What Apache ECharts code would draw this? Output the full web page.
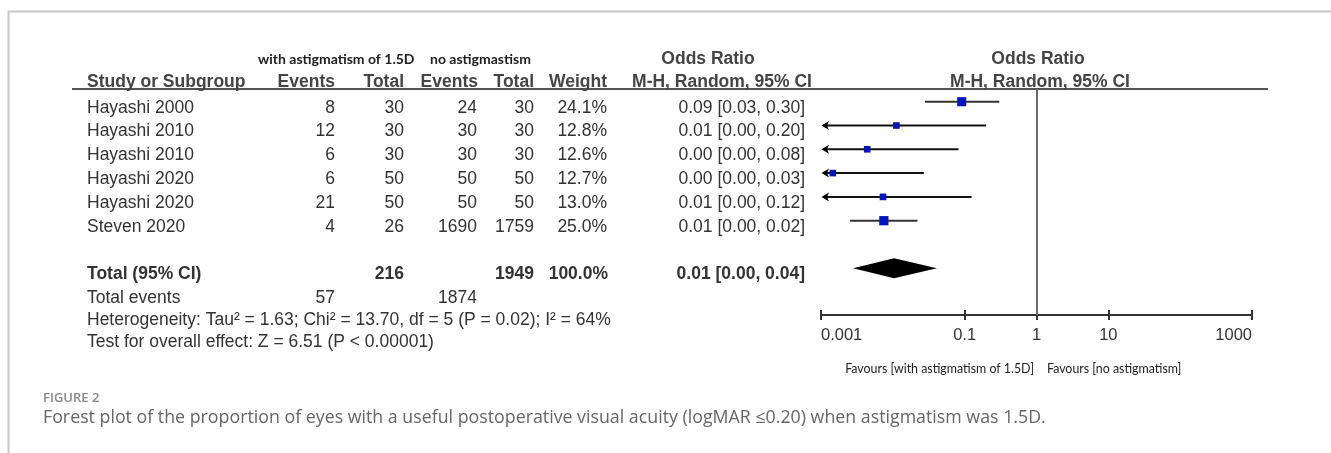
<!DOCTYPE html>
<html><head><meta charset="utf-8">
<script src="https://cdn.jsdelivr.net/npm/echarts@6/dist/echarts.min.js"></script>
<style>html,body{margin:0;padding:0;background:#fff;overflow:hidden}#c{width:1331px;height:453px}</style>
</head><body><div id="c"></div>
<script>
// ---------------- data ----------------
const studies   = ['Hayashi 2000','Hayashi 2010','Hayashi 2010','Hayashi 2020','Hayashi 2020','Steven 2020'];
const astEvents = [8, 12, 6, 6, 21, 4];
const astTotal  = [30, 30, 30, 50, 50, 26];
const noEvents  = [24, 30, 30, 50, 50, 1690];
const noTotal   = [30, 30, 30, 50, 50, 1759];
const weights   = [24.1, 12.8, 12.6, 12.7, 13.0, 25.0];
const orTexts   = ['0.09 [0.03, 0.30]','0.01 [0.00, 0.20]','0.00 [0.00, 0.08]','0.00 [0.00, 0.03]','0.01 [0.00, 0.12]','0.01 [0.00, 0.02]'];
// plotted estimates (odds ratio scale)
const orPoint   = [0.091, 0.0112, 0.0044, 0.00146, 0.0073, 0.0075];
const ciLow     = [0.028, 0.00063, 0.00024, 0.00008, 0.00043, 0.00254];
const ciHigh    = [0.304, 0.199, 0.082, 0.027, 0.125, 0.022];
const pooled    = [0.0104, 0.0028, 0.041];           // point, low, high
const totalTexts = ['Total (95% CI)', '216', '1949', '100.0%', '0.01 [0.00, 0.04]'];
const totalEventsTexts = ['Total events', '57', '1874'];
const footerLines = ['Heterogeneity: Tau\u00b2 = 1.63; Chi\u00b2 = 13.70, df = 5 (P = 0.02); I\u00b2 = 64%',
                     'Test for overall effect: Z = 6.51 (P < 0.00001)'];
const groupHeaders = ['with astigmatism of 1.5D', 'no astigmastism'];
const colHeaders = ['Study or Subgroup','Events','Total','Events','Total','Weight','M-H, Random, 95% CI'];
const plotHeaders = ['Odds Ratio','M-H, Random, 95% CI'];
const tickValues = [0.001, 0.1, 1, 10, 1000];
const tickLabels = ['0.001', '0.1', '1', '10', '1000'];
const favourLabels = ['Favours [with astigmatism of 1.5D]', 'Favours [no astigmatism]'];
const captionTitle = 'FIGURE 2';
const captionText = 'Forest plot of the proportion of eyes with a useful postoperative visual acuity (logMAR \u22640.20) when astigmatism was 1.5D.';

// ---------------- layout ----------------
const W = 1331, H = 453;
const GRID_TOP = 89, AXIS_Y = 315;
const ROW0 = 101.7, ROWH = 23.8;
const yMin = -(ROW0 - GRID_TOP) / ROWH;
const yMax = yMin + (AXIS_Y - GRID_TOP) / ROWH;
const TXT_DY = 6;
const FONT = '"Liberation Sans", Arial, sans-serif';
const F_REG = '17.5px ' + FONT, F_BOLD = 'bold 17.5px ' + FONT;
const TXT = '#333', HDR = '#444';
const COL = { name: 87, ev1: 335, tot1: 404, ev2: 477, tot2: 534, wt: 607, or: 805 };
const TOTAL_ROW = 7, EVENTS_ROW = 8, FOOT_ROWS = [8.92, 9.85];
const log = Math.log10;

function txt(x, y, text, align, font, fill) {
  return { type: 'text', x: x, y: y, style: { text: text, align: align, verticalAlign: 'middle', font: font, fill: fill || TXT } };
}

const chart = echarts.init(document.getElementById('c'), null, { renderer: 'canvas' });

const yAxisCommon = { type: 'value', inverse: true, min: yMin, max: yMax, show: false };

const option = {
  animation: false,
  backgroundColor: '#fff',
  grid: [
    { left: 0, right: 0, top: GRID_TOP, bottom: H - AXIS_Y },
    { left: 821, right: W - 1252, top: GRID_TOP, bottom: H - AXIS_Y }
  ],
  xAxis: [
    { gridIndex: 0, type: 'value', min: 0, max: W, show: false },
    { gridIndex: 1, type: 'value', min: log(tickValues[0]), max: log(tickValues[tickValues.length - 1]),
      position: 'bottom',
      splitLine: { show: false },
      axisLine: { show: true, onZero: false, lineStyle: { color: '#333', width: 2 } },
      axisTick: { show: true, length: 5, inside: false, customValues: tickValues.map(log), lineStyle: { color: '#333', width: 2 } },
      axisLabel: { show: true, margin: 12, fontSize: 16.5, fontFamily: FONT, color: '#333',
        customValues: tickValues.map(log), alignMinLabel: 'left', alignMaxLabel: 'right',
        formatter: function (v) { const i = tickValues.findIndex(t => Math.abs(log(t) - v) < 1e-6); return i >= 0 ? tickLabels[i] : ''; } }
    },
    { gridIndex: 1, type: 'value', min: log(tickValues[0]), max: log(tickValues[tickValues.length - 1]),
      position: 'bottom',
      splitLine: { show: false },
      axisLine: { show: false, onZero: false },
      axisTick: { show: true, length: 5, inside: true, customValues: tickValues.map(log), lineStyle: { color: '#333', width: 2 } },
      axisLabel: { show: false }
    }
  ],
  yAxis: [
    Object.assign({ gridIndex: 0 }, yAxisCommon),
    Object.assign({ gridIndex: 1 }, yAxisCommon)
  ],
  graphic: [
    // frame
    { type: 'rect', shape: { x: 8.5, y: 11.5, width: 1400, height: 600 }, style: { fill: 'none', stroke: '#c8c8c8', lineWidth: 2 }, silent: true },
    // header line
    { type: 'line', shape: { x1: 72, y1: GRID_TOP, x2: 1268, y2: GRID_TOP }, style: { stroke: '#555', lineWidth: 2 }, silent: true },
    // group headers
    { type: 'text', x: 258, y: 59, style: { text: groupHeaders[0], font: 'bold 14px Lato, sans-serif', fill: '#222', verticalAlign: 'middle' } },
    { type: 'text', x: 430, y: 59, style: { text: groupHeaders[1], font: 'bold 14px Lato, sans-serif', fill: '#222', verticalAlign: 'middle' } },
    { type: 'text', x: 708, y: 59, style: { text: plotHeaders[0], font: F_BOLD, fill: HDR, align: 'center', verticalAlign: 'middle' } },
    { type: 'text', x: 1038, y: 59, style: { text: plotHeaders[0], font: F_BOLD, fill: HDR, align: 'center', verticalAlign: 'middle' } },
    // column headers
    { type: 'text', x: COL.name, y: 82, style: { text: colHeaders[0], font: F_BOLD, fill: HDR, verticalAlign: 'middle' } },
    { type: 'text', x: COL.ev1, y: 82, style: { text: colHeaders[1], font: F_BOLD, fill: HDR, align: 'right', verticalAlign: 'middle' } },
    { type: 'text', x: COL.tot1, y: 82, style: { text: colHeaders[2], font: F_BOLD, fill: HDR, align: 'right', verticalAlign: 'middle' } },
    { type: 'text', x: COL.ev2 + 1, y: 82, style: { text: colHeaders[3], font: F_BOLD, fill: HDR, align: 'right', verticalAlign: 'middle' } },
    { type: 'text', x: COL.tot2, y: 82, style: { text: colHeaders[4], font: F_BOLD, fill: HDR, align: 'right', verticalAlign: 'middle' } },
    { type: 'text', x: COL.wt, y: 82, style: { text: colHeaders[5], font: F_BOLD, fill: HDR, align: 'right', verticalAlign: 'middle' } },
    { type: 'text', x: 722, y: 82, style: { text: colHeaders[6], font: F_BOLD, fill: HDR, align: 'center', verticalAlign: 'middle' } },
    { type: 'text', x: 1040, y: 82, style: { text: plotHeaders[1], font: F_BOLD, fill: HDR, align: 'center', verticalAlign: 'middle' } },
    // favours labels
    { type: 'text', x: 1034, y: 369, style: { text: favourLabels[0], font: '12.4px Lato, sans-serif', fill: '#222', align: 'right', verticalAlign: 'middle' } },
    { type: 'text', x: 1047, y: 369, style: { text: favourLabels[1], font: '12.4px Lato, sans-serif', fill: '#222', align: 'left', verticalAlign: 'middle' } },
    // caption
    { type: 'text', x: 43, y: 398, style: { text: captionTitle, font: '600 13px "Open Sans", sans-serif', fill: '#888', verticalAlign: 'middle' } },
    { type: 'text', x: 43, y: 418, style: { text: captionText, font: '17.8px "Open Sans", sans-serif', fill: '#666', verticalAlign: 'middle' } }
  ],
  series: [
    // study table rows
    {
      type: 'custom', xAxisIndex: 0, yAxisIndex: 0, silent: true,
      data: studies.map((s, i) => [i]),
      renderItem: function (params, api) {
        const i = params.dataIndex;
        const y = api.coord([0, i])[1] + TXT_DY;
        const X = k => api.coord([COL[k], i])[0];
        return { type: 'group', children: [
          txt(X('name'), y, studies[i], 'left', F_REG),
          txt(X('ev1'), y, String(astEvents[i]), 'right', F_REG),
          txt(X('tot1'), y, String(astTotal[i]), 'right', F_REG),
          txt(X('ev2'), y, String(noEvents[i]), 'right', F_REG),
          txt(X('tot2'), y, String(noTotal[i]), 'right', F_REG),
          txt(X('wt'), y, weights[i].toFixed(1) + '%', 'right', F_REG),
          txt(X('or'), y, orTexts[i], 'right', F_REG)
        ] };
      }
    },
    // total + footer rows
    {
      type: 'custom', xAxisIndex: 0, yAxisIndex: 0, silent: true,
      data: [[TOTAL_ROW]],
      renderItem: function (params, api) {
        const yT = api.coord([0, TOTAL_ROW])[1] + TXT_DY;
        const yE = api.coord([0, EVENTS_ROW])[1] + TXT_DY;
        const y1 = api.coord([0, FOOT_ROWS[0]])[1] + TXT_DY;
        const y2 = api.coord([0, FOOT_ROWS[1]])[1] + TXT_DY;
        const X = k => api.coord([COL[k], 0])[0];
        return { type: 'group', children: [
          txt(X('name'), yT, totalTexts[0], 'left', F_BOLD),
          txt(X('tot1'), yT, totalTexts[1], 'right', F_BOLD),
          txt(X('tot2'), yT, totalTexts[2], 'right', F_BOLD),
          txt(X('wt') + 1, yT, totalTexts[3], 'right', F_BOLD),
          txt(X('or'), yT, totalTexts[4], 'right', F_BOLD),
          txt(X('name'), yE, totalEventsTexts[0], 'left', F_REG),
          txt(X('ev1'), yE, totalEventsTexts[1], 'right', F_REG),
          txt(X('ev2'), yE, totalEventsTexts[2], 'right', F_REG),
          txt(X('name'), y1, footerLines[0], 'left', F_REG),
          txt(X('name'), y2, footerLines[1], 'left', F_REG)
        ] };
      }
    },
    // forest: study CIs and squares
    {
      type: 'custom', xAxisIndex: 1, yAxisIndex: 1, silent: true, clip: false,
      data: studies.map((s, i) => [log(orPoint[i]), log(ciLow[i]), log(ciHigh[i]), i, weights[i]]),
      renderItem: function (params, api) {
        const p = api.value(0), lo = api.value(1), hi = api.value(2), r = api.value(3), w = api.value(4);
        const xMinV = log(tickValues[0]);
        const y = api.coord([p, r])[1];
        const arrow = lo < xMinV;
        const xl = api.coord([Math.max(lo, xMinV), r])[0];
        const xh = api.coord([hi, r])[0];
        const xp = api.coord([p, r])[0];
        const s = 1.85 * Math.sqrt(w);
        const children = [
          { type: 'line', shape: { x1: xl + (arrow ? 4 : 0), y1: y, x2: xh, y2: y }, style: { stroke: arrow ? '#111' : '#333', lineWidth: 2 } }
        ];
        if (arrow) {
          children.push({ type: 'polygon', shape: { points: [[xl + 0.5, y], [xl + 8, y - 4.5], [xl + 6, y], [xl + 8, y + 4.5]] }, style: { fill: '#000' } });
        }
        children.push({ type: 'rect', shape: { x: xp - s / 2, y: y - s / 2, width: s, height: s }, style: { fill: '#0714b8' } });
        return { type: 'group', children: children };
      },
      markLine: {
        silent: true, symbol: ['none', 'none'], label: { show: false },
        lineStyle: { color: '#6a6a6a', width: 2, type: 'solid' },
        data: [{ xAxis: log(tickValues[2]) }]
      }
    },
    // forest: pooled diamond
    {
      type: 'custom', xAxisIndex: 1, yAxisIndex: 1, silent: true, clip: false,
      data: [[log(pooled[0]), log(pooled[1]), log(pooled[2]), TOTAL_ROW]],
      renderItem: function (params, api) {
        const r = api.value(3);
        const y = api.coord([api.value(0), r])[1];
        const xp = api.coord([api.value(0), r])[0];
        const xl = api.coord([api.value(1), r])[0];
        const xh = api.coord([api.value(2), r])[0];
        return { type: 'polygon', shape: { points: [[xl, y], [xp, y - 10], [xh, y], [xp, y + 10]] }, style: { fill: '#000' } };
      }
    }
  ]
};
chart.setOption(option);
</script>
</body></html>
